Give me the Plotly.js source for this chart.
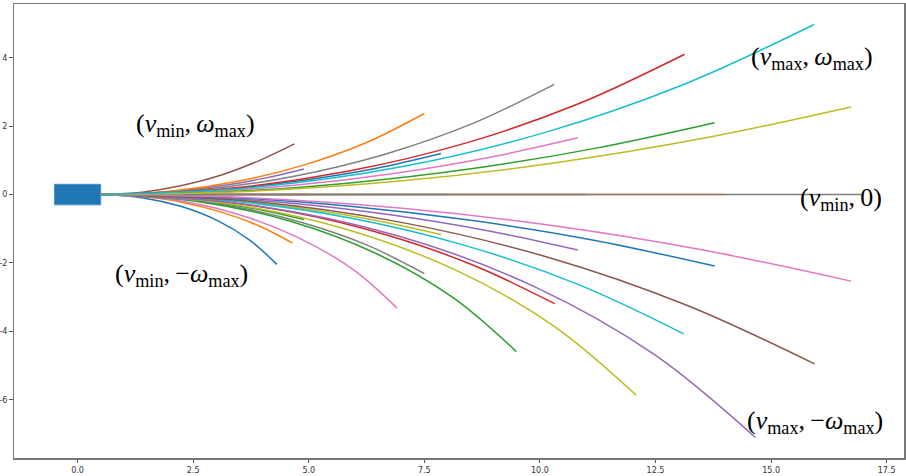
<!DOCTYPE html>
<html>
<head>
<meta charset="utf-8">
<script src="https://cdn.plot.ly/plotly-3.0.1.min.js"></script>
<style>html,body{margin:0;padding:0;background:#fff;}#chart{width:906px;height:476px;}</style>
</head>
<body>
<div id="chart"></div>
<script>
// Trajectories; per velocity level, omega order: -max, -2, -1, 0, +1, +2
const v1X = [
  [0.5, 1.39, 2.25, 3.04, 3.73, 4.31],
  [0.5, 1.40, 2.28, 3.13, 3.93, 4.65],
  [0.5, 1.40, 2.30, 3.18, 4.05, 4.90],
  [0.5, 5.0],
  [0.5, 1.40, 2.30, 3.18, 4.05, 4.90],
  [0.5, 1.40, 2.28, 3.13, 3.94, 4.69]
];
const v1Y = [
  [0, -0.09, -0.35, -0.77, -1.34, -2.04],
  [0, -0.06, -0.23, -0.52, -0.92, -1.42],
  [0, -0.03, -0.12, -0.27, -0.47, -0.73],
  [0, 0],
  [0, 0.03, 0.12, 0.27, 0.48, 0.75],
  [0, 0.07, 0.27, 0.58, 1.00, 1.48]
];
const v2X = [
  [0.5, 1.99, 3.43, 4.76, 5.95, 6.91],
  [0.5, 2.00, 3.47, 4.89, 6.25, 7.50],
  [0.5, 2.00, 3.49, 4.97, 6.44, 7.86],
  [0.5, 8.0],
  [0.5, 2.00, 3.49, 4.97, 6.44, 7.86],
  [0.5, 2.00, 3.47, 4.89, 6.25, 7.50]
];
const v2Y = [
  [0, -0.14, -0.56, -1.25, -2.18, -3.32],
  [0, -0.09, -0.37, -0.83, -1.47, -2.31],
  [0, -0.05, -0.19, -0.42, -0.75, -1.17],
  [0, 0],
  [0, 0.05, 0.19, 0.43, 0.76, 1.20],
  [0, 0.10, 0.39, 0.86, 1.52, 2.37]
];
const v3X = [
  [0.5, 2.59, 4.60, 6.47, 8.13, 9.49],
  [0.5, 2.59, 4.66, 6.65, 8.55, 10.32],
  [0.5, 2.60, 4.69, 6.76, 8.81, 10.82],
  [0.5, 11.0],
  [0.5, 2.60, 4.69, 6.76, 8.81, 10.82],
  [0.5, 2.59, 4.66, 6.65, 8.55, 10.31]
];
const v3Y = [
  [0, -0.20, -0.78, -1.73, -3.02, -4.59],
  [0, -0.13, -0.52, -1.17, -2.06, -3.19],
  [0, -0.07, -0.26, -0.59, -1.04, -1.62],
  [0, 0],
  [0, 0.07, 0.27, 0.60, 1.06, 1.66],
  [0, 0.13, 0.53, 1.18, 2.08, 3.22]
];
const v4X = [
  [0.5, 3.18, 5.77, 8.18, 10.31, 12.08],
  [0.5, 3.19, 5.84, 8.41, 10.85, 13.11],
  [0.5, 3.20, 5.89, 8.55, 11.19, 13.78],
  [0.5, 14.0],
  [0.5, 3.20, 5.89, 8.55, 11.19, 13.78],
  [0.5, 3.19, 5.84, 8.41, 10.85, 13.13]
];
const v4Y = [
  [0, -0.25, -1.00, -2.21, -3.85, -5.86],
  [0, -0.17, -0.67, -1.50, -2.64, -4.07],
  [0, -0.08, -0.34, -0.76, -1.34, -2.09],
  [0, 0],
  [0, 0.08, 0.34, 0.76, 1.35, 2.10],
  [0, 0.17, 0.68, 1.51, 2.66, 4.10]
];
const v5X = [
  [0.5, 3.78, 6.94, 9.88, 12.48, 14.66],
  [0.5, 3.79, 7.03, 10.17, 13.15, 15.94],
  [0.5, 3.80, 7.08, 10.34, 13.56, 16.73],
  [0.5, 17.0],
  [0.5, 3.80, 7.08, 10.34, 13.56, 16.73],
  [0.5, 3.79, 7.03, 10.17, 13.15, 15.93]
];
const v5Y = [
  [0, -0.31, -1.21, -2.69, -4.68, -7.10],
  [0, -0.20, -0.82, -1.83, -3.22, -4.95],
  [0, -0.10, -0.41, -0.92, -1.63, -2.53],
  [0, 0],
  [0, 0.10, 0.41, 0.93, 1.65, 2.56],
  [0, 0.21, 0.82, 1.84, 3.24, 4.97]
];
const robotX = [-0.5, 0.5];
const robotY = [-0.3, 0.3];
const xTickVals = [0, 2.5, 5, 7.5, 10, 12.5, 15, 17.5];
const xTickText = ['0.0', '2.5', '5.0', '7.5', '10.0', '12.5', '15.0', '17.5'];
const yTickVals = [-6, -4, -2, 0, 2, 4];
const yTickText = ['-6', '-4', '-2', '0', '2', '4'];
const labelTexts = [
  '(<i>v</i><sub>min</sub>,\u2009<i>\u03c9</i><sub>max</sub>)',
  '(<i>v</i><sub>min</sub>,\u2009\u2212<i>\u03c9</i><sub>max</sub>)',
  '(<i>v</i><sub>max</sub>,\u2009<i>\u03c9</i><sub>max</sub>)',
  '(<i>v</i><sub>min</sub>,\u20090)',
  '(<i>v</i><sub>max</sub>,\u2009\u2212<i>\u03c9</i><sub>max</sub>)'
];
const labelX = [2.54, 2.24, 15.89, 16.52, 15.95];
const labelY = [2.03, -2.35, 3.99, -0.13, -6.65];

// style
const palette = ['#1f77b4','#ff7f0e','#2ca02c','#d62728','#9467bd','#8c564b','#e377c2','#7f7f7f','#bcbd22','#17becf'];

const groupsX = [v1X, v2X, v3X, v4X, v5X];
const groupsY = [v1Y, v2Y, v3Y, v4Y, v5Y];
const traces = [];
let k = 0;
for (let g = 0; g < groupsX.length; g++) {
  for (let j = 0; j < groupsX[g].length; j++) {
    traces.push({
      x: groupsX[g][j], y: groupsY[g][j],
      type: 'scatter', mode: 'lines',
      line: {color: palette[k % 10], width: 1.5, shape: 'spline'},
      hoverinfo: 'skip'
    });
    k++;
  }
}

const annotations = labelTexts.map((t, i) => ({
  x: labelX[i], y: labelY[i], xref: 'x', yref: 'y',
  text: t, showarrow: false, xanchor: 'center', yanchor: 'middle',
  font: {family: 'Liberation Serif, Times New Roman, serif', size: 26, color: '#000'}
}));

const axisCommon = {
  showgrid: false, zeroline: false, showline: true, mirror: true,
  linecolor: '#777', linewidth: 1.5,
  ticks: 'outside', ticklen: 3.5, tickwidth: 1, tickcolor: '#555',
  tickfont: {family: 'DejaVu Sans, sans-serif', size: 8, color: '#333'}
};

const layout = {
  width: 906, height: 476,
  margin: {l: 14, r: 2, t: 4, b: 18},
  paper_bgcolor: '#fff', plot_bgcolor: '#fff',
  showlegend: false,
  xaxis: Object.assign({}, axisCommon, {range: [-1.375, 17.875], tickvals: xTickVals, ticktext: xTickText}),
  yaxis: Object.assign({}, axisCommon, {range: [-7.70, 5.57], tickvals: yTickVals, ticktext: yTickText}),
  shapes: [{
    type: 'rect', xref: 'x', yref: 'y',
    x0: robotX[0], x1: robotX[1], y0: robotY[0], y1: robotY[1],
    fillcolor: '#1f77b4', line: {color: '#4a90c8', width: 1}, layer: 'below'
  }],
  annotations: annotations
};

Plotly.newPlot('chart', traces, layout, {displayModeBar: false, staticPlot: true});
</script>
</body>
</html>
